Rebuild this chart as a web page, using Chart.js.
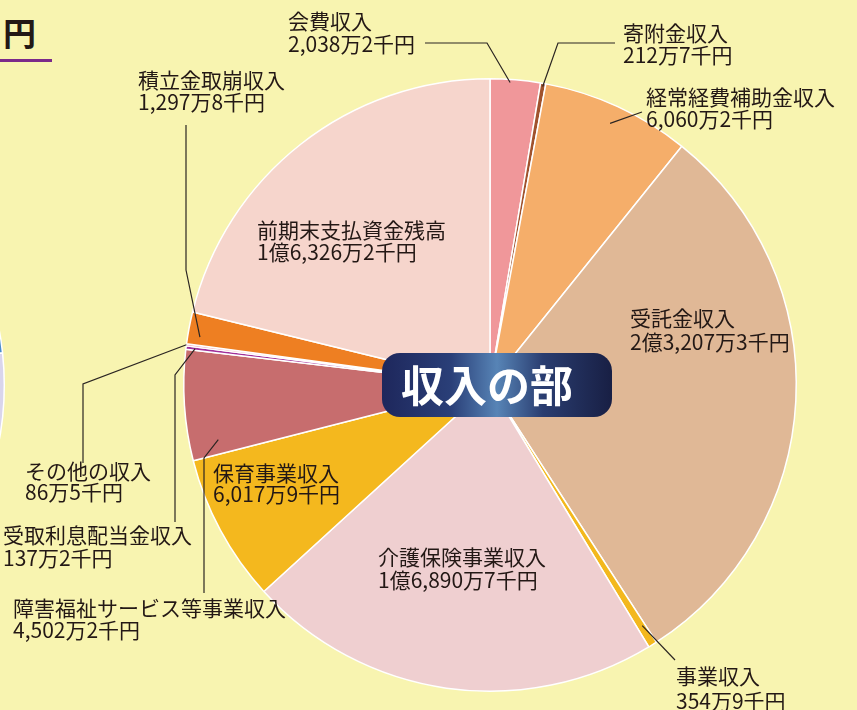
<!DOCTYPE html>
<html>
<head>
<meta charset="utf-8">
<script src="https://cdn.jsdelivr.net/npm/chart.js@4.4.1/dist/chart.umd.min.js"></script>
<style>
    html, body { margin: 0; padding: 0; background: #f8f4b0; overflow: hidden; width: 857px; height: 710px; }
    #wrap { position: relative; width: 857px; height: 710px; }
    #main { position: absolute; left: 0; top: 0; }
    #side { position: absolute; left: -623px; top: 65px; }
    #unit { position: absolute; left: 3px; top: 12px; font: bold 33px "Noto Sans CJK JP"; color: #231815; line-height: 40px; }
    #rule { position: absolute; left: 0; top: 59px; width: 52px; height: 3px; background: #7b2a8a; }
</style>
</head>
<body>
<div id="wrap">
    <canvas id="side" width="640" height="640"></canvas>
    <div id="unit">円</div>
    <div id="rule"></div>
    <canvas id="main" width="857" height="710"></canvas>
</div>
<script>
// Income breakdown (units: 万円), clockwise from 12 o'clock
const categories = ['会費収入', '寄附金収入', '経常経費補助金収入', '受託金収入', '事業収入', '介護保険事業収入',
    '保育事業収入', '障害福祉サービス等事業収入', '受取利息配当金収入', 'その他の収入', '積立金取崩収入', '前期末支払資金残高'];
const amounts = [2038.2, 212.7, 6060.2, 23207.3, 354.9, 16890.7, 6017.9, 4502.2, 137.2, 86.5, 1297.8, 16326.2];
const amountLabels = ['2,038万2千円', '212万7千円', '6,060万2千円', '2億3,207万3千円', '354万9千円', '1億6,890万7千円',
    '6,017万9千円', '4,502万2千円', '137万2千円', '86万5千円', '1,297万8千円', '1億6,326万2千円'];
const sliceColors = ['#f0979a', '#a0522d', '#f5ae6a', '#e0b896', '#f3b81d', '#efcfd0',
    '#f4b81e', '#c76d6e', '#a0309a', '#f0a8b8', '#ee7f22', '#f6d5cc'];

// neighbouring chart cut off at the left edge
const sideValues = [84, 96, 180];
const sideColors = ['#4a8ccc', '#d9d5ec', '#d9d5ec'];

// label text positions (left edge, line 1 centre, line 2 centre)
const labelPos = [
    [288, 21, 44], [623, 33, 55], [646, 97, 119], [630, 318, 342], [676, 676, 701], [378, 557, 580],
    [213, 473, 494], [13, 608, 630], [3, 535, 558], [25, 471, 492], [138, 80, 102], [257, 230, 252]
];

// leader lines: where on the slice they start (share of the slice angle, share of radius) and the path to the text
const leaders = [
    { at: 0.4, r: 0.99, path: [[487, 43], [425, 43]] },
    { at: 0.5, r: 0.99, path: [[558, 43], [615, 43]] },
    { at: 0.5, r: 0.94, path: [[642, 112]] },
    null,
    { at: 0.35, r: 0.93, path: [[675, 660]] },
    null,
    null,
    { at: 0.14, r: 0.905, path: [[204, 458], [204, 593]] },
    { at: 0.5, r: 0.97, path: [[175, 375], [175, 522]] },
    { at: 0.5, r: 1.0, path: [[83, 384], [83, 463]] },
    { at: 0.27, r: 0.96, path: [[186, 270], [186, 125]] },
    null
];

const textColor = '#231815';
const labelFont = '21px "Noto Sans CJK JP"';

const labelPlugin = {
    id: 'sliceLabels',
    afterDatasetsDraw(chart) {
        const ctx = chart.ctx;
        const arcs = chart.getDatasetMeta(0).data;
        ctx.save();
        ctx.strokeStyle = '#2b2522';
        ctx.lineWidth = 1.2;
        arcs.forEach((arc, i) => {
            const lead = leaders[i];
            if (!lead) return;
            const p = arc.getProps(['x', 'y', 'startAngle', 'endAngle', 'outerRadius'], true);
            const a = p.startAngle + (p.endAngle - p.startAngle) * lead.at;
            const r = p.outerRadius * lead.r;
            ctx.beginPath();
            ctx.moveTo(p.x + Math.cos(a) * r, p.y + Math.sin(a) * r);
            lead.path.forEach(pt => ctx.lineTo(pt[0], pt[1]));
            ctx.stroke();
        });

        ctx.fillStyle = textColor;
        ctx.font = labelFont;
        ctx.textAlign = 'left';
        ctx.textBaseline = 'middle';
        categories.forEach((name, i) => {
            const pos = labelPos[i];
            ctx.fillText(name, pos[0], pos[1]);
            ctx.fillText(amountLabels[i], pos[0], pos[2]);
        });
        ctx.restore();
    },
    afterDraw(chart) {
        // centre badge
        const ctx = chart.ctx;
        const meta = chart.getDatasetMeta(0).data[0];
        const cx = meta.x + 7, cy = meta.y;
        const w = 230, h = 64;
        const left = cx - w / 2, top = cy - h / 2;
        ctx.save();
        const grad = ctx.createLinearGradient(left, 0, left + w, 0);
        grad.addColorStop(0, '#1e275c');
        grad.addColorStop(0.3, '#2a3f78');
        grad.addColorStop(0.5, '#5784b6');
        grad.addColorStop(0.7, '#2a3d70');
        grad.addColorStop(1, '#181f44');
        ctx.fillStyle = grad;
        ctx.beginPath();
        ctx.roundRect(left, top, w, h, 18);
        ctx.fill();
        ctx.fillStyle = '#ffffff';
        ctx.font = 'bold 43px "Noto Sans CJK JP"';
        ctx.textAlign = 'center';
        ctx.textBaseline = 'middle';
        ctx.fillText('収入の部', cx - 10, cy + 1);
        ctx.restore();
    }
};

new Chart(document.getElementById('side'), {
    type: 'pie',
    data: {
        datasets: [{
            data: sideValues,
            backgroundColor: sideColors,
            borderColor: '#ffffff',
            borderWidth: 1.5
        }]
    },
    options: {
        responsive: false,
        animation: false,
        devicePixelRatio: 1,
        layout: { padding: 12 },
        plugins: { legend: { display: false }, tooltip: { enabled: false } }
    }
});

new Chart(document.getElementById('main'), {
    type: 'pie',
    data: {
        labels: categories,
        datasets: [{
            data: amounts,
            backgroundColor: sliceColors,
            borderColor: '#ffffff',
            borderWidth: 1.5
        }]
    },
    options: {
        responsive: false,
        animation: false,
        devicePixelRatio: 1,
        layout: { padding: { left: 183, right: 60, top: 78, bottom: 18 } },
        plugins: { legend: { display: false }, tooltip: { enabled: false } }
    },
    plugins: [labelPlugin]
});
</script>
</body>
</html>
